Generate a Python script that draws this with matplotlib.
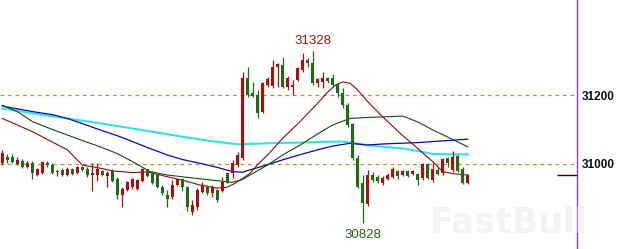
import numpy as np
import matplotlib
matplotlib.use('Agg')
import matplotlib.pyplot as plt

# ============================================================================
# DATA
# ============================================================================

opens = [31003, 31020, 31020, 31000, 31009, 30991, 31003, 30968, 30974, 31003,
         30997, 30977, 30983, 30968, 30986, 30974, 30991, 30986, 30968, 30968,
         30980, 30965, 30980, 30957, 30910, 30925, 30933, 30928, 30951, 30986,
         30974, 30968, 30933, 30910, 30904, 30939, 30957, 30933, 30861, 30875,
         30919, 30933, 30916, 30925, 30922, 30974, 30974, 30997, 31017, 31249,
         31206, 31200, 31151, 31229, 31226, 31281, 31287, 31223, 31223, 31244,
         31273, 31302, 31293, 31235, 31238, 31249, 31249, 31229, 31206, 31171,
         31116, 31017, 30945, 30884, 30968, 30962, 30945, 30957, 30962, 30980,
         30968, 30980, 30971, 30971, 30959, 31000, 30954, 30983, 30974, 31017,
         30983, 31023, 30986, 30945]
highs = [31041, 31029, 31029, 31020, 31015, 31009, 31009, 30988, 31009, 31009,
         31003, 30983, 30988, 30991, 30988, 30994, 30994, 30991, 31003, 31003,
         30983, 30980, 30986, 30962, 30933, 30951, 30959, 30957, 30988, 30986,
         30980, 30971, 30939, 30925, 30954, 30957, 30959, 30936, 30896, 30930,
         30948, 30939, 30939, 30928, 30962, 30977, 31012, 31035, 31267, 31281,
         31238, 31215, 31238, 31252, 31302, 31293, 31310, 31255, 31244, 31281,
         31322, 31307, 31328, 31249, 31267, 31252, 31261, 31235, 31220, 31177,
         31119, 31026, 30968, 30983, 30977, 30968, 30965, 30974, 30991, 30983,
         30983, 30983, 30983, 30974, 31003, 31003, 31003, 30991, 31017, 31020,
         31038, 31026, 30991, 30971]
lows = [30997, 31003, 31003, 30997, 30988, 30988, 30957, 30965, 30971, 30991,
        30971, 30965, 30965, 30965, 30968, 30971, 30980, 30962, 30922, 30951,
        30965, 30933, 30948, 30899, 30875, 30922, 30928, 30925, 30948, 30962,
        30942, 30930, 30910, 30875, 30899, 30936, 30922, 30864, 30852, 30867,
        30916, 30910, 30904, 30890, 30919, 30945, 30959, 30991, 31012, 31194,
        31194, 31133, 31148, 31223, 31220, 31223, 31220, 31215, 31200, 31240,
        31267, 31281, 31229, 31223, 31220, 31235, 31223, 31194, 31162, 31107,
        31012, 30930, 30828, 30878, 30948, 30945, 30939, 30954, 30959, 30957,
        30965, 30962, 30968, 30939, 30954, 30957, 30948, 30968, 30968, 30991,
        30977, 30977, 30942, 30942]
closes = [31032, 31012, 31006, 31012, 30991, 31003, 30974, 30986, 31006, 30997,
          30974, 30980, 30968, 30986, 30971, 30991, 30983, 30968, 30974, 30986,
          30968, 30974, 30951, 30910, 30928, 30948, 30957, 30954, 30986, 30965,
          30945, 30933, 30916, 30899, 30939, 30957, 30933, 30875, 30881, 30925,
          30939, 30916, 30933, 30896, 30948, 30945, 31003, 31026, 31249, 31200,
          31197, 31148, 31235, 31246, 31281, 31290, 31223, 31249, 31229, 31278,
          31302, 31293, 31235, 31246, 31249, 31241, 31229, 31206, 31171, 31113,
          31017, 30933, 30887, 30968, 30954, 30951, 30959, 30968, 30986, 30965,
          30980, 30965, 30980, 30954, 31000, 30959, 30986, 30971, 31015, 31003,
          31020, 30980, 30945, 30968]

# moving averages, sampled at candle index positions
ma_fast_x = [0, 6, 13, 16, 19.5, 22, 26, 29, 33, 36, 39.5, 43, 45, 46.5, 48, 49.5,
             51, 53, 56, 59.5, 63, 65, 66.5, 68, 69.5, 71, 73, 76, 79.5, 83, 86,
             88, 90, 93]
ma_fast = [31132, 31094, 31041, 30997, 30988, 30980, 30975, 30977, 30963, 30953,
           30939, 30930, 30933, 30944, 30958, 30973, 30998, 31026, 31074, 31123,
           31176, 31208, 31228, 31238, 31234, 31215, 31181, 31137, 31089, 31045,
           31007, 30978, 30972, 30968]
ma_mid_x = [0, 3, 6, 10, 13, 16, 19.5, 23, 26, 29.5, 33, 39.5, 44, 46, 48, 49.5,
            53, 56, 59.5, 63, 66, 68, 69.5, 73, 77, 80, 83, 86, 89, 93]
ma_mid = [31170, 31152, 31123, 31100, 31084, 31068, 31050, 31030, 31007, 30978,
          30968, 30957, 30950, 30947, 30955, 30968, 30997, 31026, 31055, 31087,
          31113, 31124, 31132, 31135, 31137, 31139, 31122, 31099, 31078, 31050]
ma_slow_x = [0, 3, 6, 10, 13, 16, 19.5, 23, 26, 29.5, 33, 36, 39.5, 43, 46, 48,
             49.5, 53, 56, 59.5, 63, 66, 69.5, 73, 76, 79.5, 83, 86, 89, 93]
ma_slow = [31168, 31160, 31152, 31143, 31132, 31117, 31099, 31082, 31065, 31045,
           31026, 31013, 31002, 30990, 30978, 30976, 30983, 30998, 31012, 31027,
           31041, 31052, 31060, 31055, 31058, 31060, 31062, 31065, 31068, 31072]
ma_long_x = [0, 6, 13, 20, 26, 31, 36, 41, 47, 53, 59.5, 64, 68, 73, 76, 79.5,
             83, 86, 89, 93]
ma_long = [31161, 31147, 31132, 31117, 31103, 31091, 31079, 31068, 31057, 31060,
           31062, 31064, 31065, 31055, 31050, 31046, 31038, 31029, 31028, 31028]

grid_levels = [31000, 31200]
high_label = '31328'
low_label = '30828'

# ============================================================================
# FIGURE
# ============================================================================

fig = plt.figure(figsize=(6.2, 2.49), dpi=100)
ax = fig.add_axes([0, 0, 576.5 / 620, 1])

up_col = '#A80F0F'
dn_col = '#1F6A14'

x = np.arange(len(opens))
o = np.array(opens)
c = np.array(closes)
up = c >= o
cols = np.where(up, up_col, dn_col)
body_lo = np.minimum(o, c)
body_h = np.maximum(np.abs(c - o), 2.0)

ax.vlines(x, lows, highs, colors=cols, linewidth=0.9, zorder=3)
ax.bar(x, body_h, bottom=body_lo, width=0.62, color=cols, linewidth=0, zorder=4)

# moving averages
ax.plot(ma_long_x, ma_long, color='#33E0E8', linewidth=1.5, zorder=2)
ax.plot(ma_slow_x, ma_slow, color='#0A0AA8', linewidth=0.9, zorder=2)
ax.plot(ma_mid_x, ma_mid, color='#0B4F0B', linewidth=0.8, zorder=2)
ax.plot(ma_fast_x, ma_fast, color='#8E0A0A', linewidth=0.8, zorder=2)

# dashed price levels
for lv in grid_levels:
    ax.axhline(lv, color='#A89A2A', linewidth=0.9, linestyle=(0, (3, 3)), zorder=1)

# current price marker at right edge
ax.hlines(closes[-1], 110.9, 114.8, color='#3A0000', linewidth=1.0, zorder=3)

# high / low labels
ax.annotate(high_label, xy=(62, highs[62]), xytext=(0, 2.5), textcoords='offset points',
            ha='center', va='bottom', fontsize=9.5, color='#A01414',
            family='Liberation Sans')
ax.annotate(low_label, xy=(72, lows[72]), xytext=(0, -4), textcoords='offset points',
            ha='center', va='top', fontsize=9.5, color='#2E5E0A',
            family='Liberation Sans')

# watermark
fig.text(430 / 620, 1 - 232 / 249, 'FastBull', fontsize=25, fontweight='bold',
         color='#F3F3F3', ha='left', va='baseline', zorder=0)

# axes
ax.set_xlim(-0.46, 114.74)
ax.set_ylim(30753.6, 31475.4)
ax.patch.set_alpha(0)
for s in ['left', 'top', 'bottom']:
    ax.spines[s].set_visible(False)
ax.spines['right'].set_color('#9B35D6')
ax.spines['right'].set_linewidth(1.0)
ax.set_xticks([])
ax.yaxis.tick_right()
ax.set_yticks(grid_levels)
ax.set_yticklabels([str(v) for v in grid_levels], fontsize=8.5, fontweight='bold',
                   family='Liberation Sans', color='#111111')
ax.tick_params(axis='y', length=0, pad=4)

plt.savefig('out.png', dpi=100)
